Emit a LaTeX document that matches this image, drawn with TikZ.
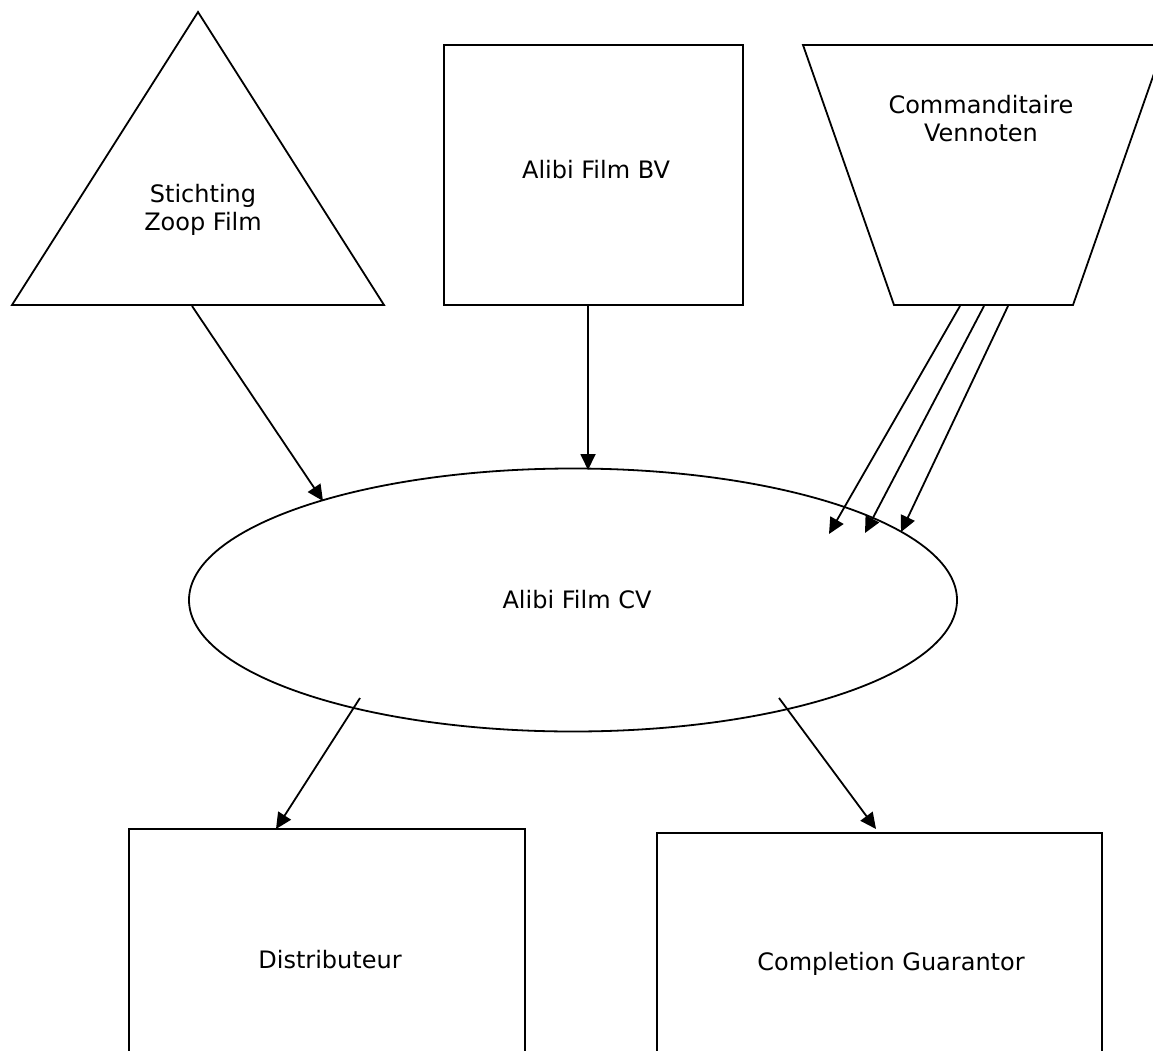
\documentclass[tikz,border=0pt]{standalone}
\usepackage{fontspec}
\setmainfont{DejaVu Sans}
\usetikzlibrary{shapes.geometric,arrows.meta}
\tikzset{
  box/.style={draw,rectangle,inner sep=0pt},
  label text/.style={align=center,font=\fontsize{24}{28}\selectfont},
}
\begin{document}
\begin{tikzpicture}[x=1pt,y=-1pt,line width=1.8pt]
      \useasboundingbox (0,0) rectangle (1153,1051);
      \clip (0,0) rectangle (1153,1051);
      % outlines
      \draw (198,12) -- (384,305) -- (12,305) -- cycle;
      \draw (803,45) -- (1164,45) -- (1073,305) -- (894,305) -- cycle;
      \draw
        (593.5,175) node[box,minimum width=299,minimum height=260] (bvbox){}
        (573,600) node[draw,ellipse,inner sep=0pt,minimum width=768,minimum height=263] (cvbox){}
        (327,960) node[box,minimum width=396,minimum height=262] (distbox){}
        (879.5,964) node[box,minimum width=445,minimum height=262] (cgbox){};
      % texts
      \draw
        (203,210) node[label text] (zoop){Stichting\\Zoop Film}
        (596,170) node[label text] (bv){Alibi Film BV}
        (981,119) node[label text] (cvn){Commanditaire\\Vennoten}
        (577,600) node[label text] (cv){Alibi Film CV}
        (330,960) node[label text] (dist){Distributeur}
        (891,964) node[label text] (cg){Completion Guarantor};
      % arrow ends
      \coordinate (zoop out) at (192,306);
      \coordinate (cv in1) at (323,501);
      \coordinate (bv out) at (588,306);
      \coordinate (cv in2) at (588,470);
      \coordinate (cvn out1) at (960,306);
      \coordinate (cvn out2) at (984,306);
      \coordinate (cvn out3) at (1008,306);
      \coordinate (cv in3) at (829,534);
      \coordinate (cv in4) at (865,533);
      \coordinate (cv in5) at (901,532);
      \coordinate (cv out1) at (360,698);
      \coordinate (dist in) at (276,829);
      \coordinate (cv out2) at (779,698);
      \coordinate (cg in) at (876,829);
      \begin{scope}[-{Triangle[length=16pt,width=15pt]}]
        \draw (zoop out) to (cv in1);
        \draw (bv out) to (cv in2);
        \draw (cvn out1) to (cv in3);
        \draw (cvn out2) to (cv in4);
        \draw (cvn out3) to (cv in5);
        \draw (cv out1) to (dist in);
        \draw (cv out2) to (cg in);
      \end{scope}
    \end{tikzpicture}
\end{document}
